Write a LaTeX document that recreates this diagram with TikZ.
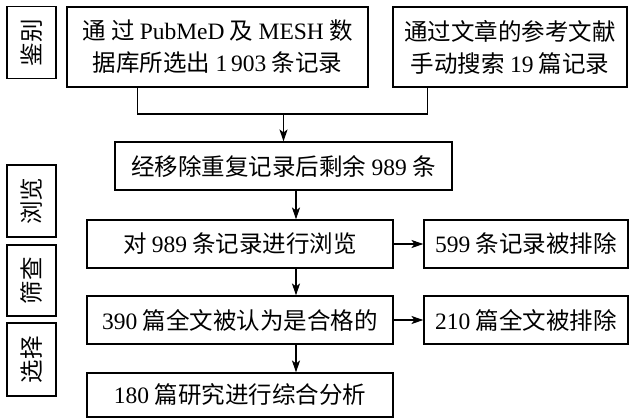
\documentclass[tikz,border=0pt]{standalone}
\usepackage{fontspec}
\setmainfont{Liberation Serif}
\newfontfamily\cjk{Noto Sans CJK SC}
\newcommand{\lat}[1]{{\rmfamily #1}}
\usetikzlibrary{arrows.meta,calc}

\begin{document}
\begin{tikzpicture}[x=1pt,y=-1pt,
  box/.style={draw,line width=1.1pt,inner sep=0pt,align=center,
    font=\cjk\fontsize{23.5}{32}\selectfont},
  tag/.style={box,minimum height=49pt,rotate=90},
  arr/.style={line width=1.1pt,-{Stealth[length=12pt,width=8pt,inset=3pt]}}]
  \useasboundingbox (0,0) rectangle (630,418);
  % stage labels on the left
  \node[tag,minimum width=72pt] (jb) at (31.5,42.5) {鉴别};
  \node[tag,minimum width=72pt] (ll) at (31.5,201) {浏览};
  \node[tag,minimum width=71pt] (sc) at (31.5,280.5) {筛查};
  \node[tag,minimum width=73pt] (xz) at (31.5,359.5) {选择};
  % records
  \node[box,minimum width=301pt,minimum height=80pt] (db) at (217.5,47)
    {通 过 \lat{PubMeD} 及 \lat{MESH} 数\\据库所选出 \lat{1\,903} 条记录};
  \node[box,minimum width=234pt,minimum height=80pt] (ref) at (510,47)
    {通过文章的参考文献\\手动搜索 \lat{19} 篇记录};
  \node[box,minimum width=337pt,minimum height=48pt] (dup) at (283.5,166)
    {经移除重复记录后剩余 \lat{989} 条};
  \node[box,minimum width=306pt,minimum height=48pt] (scr) at (240,244)
    {对 \lat{989} 条记录进行浏览};
  \node[box,minimum width=204pt,minimum height=48pt] (ex1) at (526,244)
    {\lat{599} 条记录被排除};
  \node[box,minimum width=306pt,minimum height=48pt] (full) at (240,320)
    {\lat{390} 篇全文被认为是合格的};
  \node[box,minimum width=204pt,minimum height=48pt] (ex2) at (526,320)
    {\lat{210} 篇全文被排除};
  \node[box,minimum width=306pt,minimum height=44pt] (fin) at (240,395)
    {\lat{180} 篇研究进行综合分析};
  % connectors
  \coordinate (m) at (283.5,114);
  \coordinate (ax) at (296,0);
  \draw[line width=1.1pt] ($(db.south west)+(71,0)$) |- (m) -| ($(ref.south west)+(35,0)$);
  \draw[arr] (m) -- (dup.north -| m);
  \draw[arr] (dup.south -| ax) -- (scr.north -| ax);
  \draw[arr] (scr.south -| ax) -- (full.north -| ax);
  \draw[arr] (full.south -| ax) -- (fin.north -| ax);
  \draw[arr] (scr) -- (ex1);
  \draw[arr] (full) -- (ex2);
\end{tikzpicture}
\end{document}
